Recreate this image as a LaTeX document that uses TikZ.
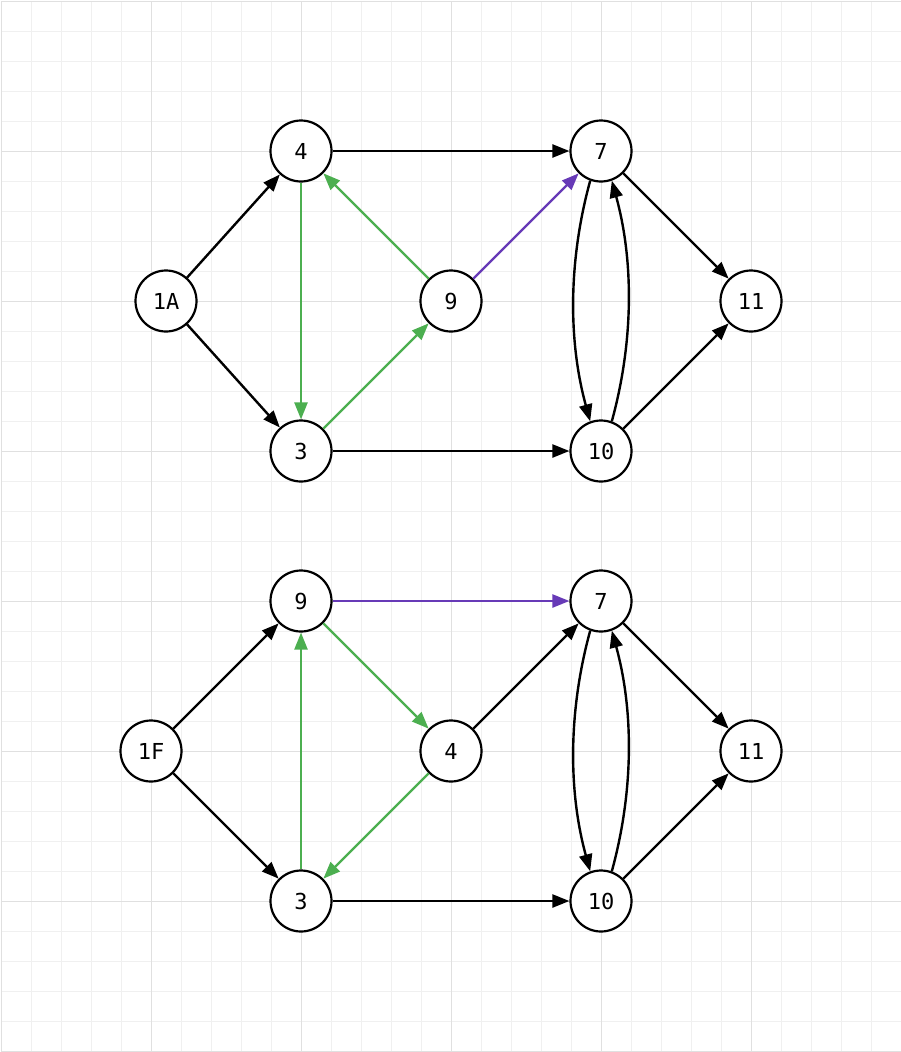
\documentclass[tikz,border=0pt]{standalone}
\usepackage{fontspec}
\newfontfamily\monofnt{DejaVu Sans Mono}
\usetikzlibrary{arrows.meta}
\definecolor{gminor}{HTML}{F0F0F0}
\definecolor{gmajor}{HTML}{E0E0E0}
\definecolor{egreen}{HTML}{4CAF50}
\definecolor{epurple}{HTML}{673AB7}
\tikzset{
  vtx/.style={circle, draw=black, line width=2.2pt, fill=white, minimum size=61pt, inner sep=0pt, font=\monofnt\fontsize{22}{22}\selectfont},
  edg/.style={line width=2.4pt, -{Triangle[length=17pt,width=13pt]}},
  blk/.style={edg, draw=black},
  grn/.style={edg, draw=egreen, -{Triangle[length=17pt,width=13pt,fill=egreen]}},
  prp/.style={edg, draw=epurple, -{Triangle[length=17pt,width=13pt,fill=epurple]}},
  gmin/.style={draw=gminor, line width=1pt},
  gmaj/.style={draw=gmajor, line width=1pt},
}
\begin{document}
\begin{tikzpicture}[x=1pt,y=-1pt]
\useasboundingbox (0,0) rectangle (901,1052);
\fill[white] (0,0) rectangle (901,1052);
% grid
\foreach \i in {0,...,30} {
  \pgfmathsetmacro\xx{1+30*\i}
  \draw[gmin] (\xx,1) -- (\xx,1051);
}
\foreach \j in {0,...,35} {
  \pgfmathsetmacro\yy{1+30*\j}
  \draw[gmin] (1,\yy) -- (901,\yy);
}
\foreach \i in {0,...,6} {
  \pgfmathsetmacro\xx{1+150*\i}
  \draw[gmaj] (\xx,1) -- (\xx,1051);
}
\foreach \j in {0,...,7} {
  \pgfmathsetmacro\yy{1+150*\j}
  \draw[gmaj] (1,\yy) -- (901,\yy);
}
\draw[gmaj] (1,1051) -- (901,1051);

% top graph
\node[vtx] (a1) at (166,301) {1A};
\node[vtx] (a4) at (301,151) {4};
\node[vtx] (a3) at (301,451) {3};
\node[vtx] (a9) at (451,301) {9};
\node[vtx] (a7) at (601,151) {7};
\node[vtx] (a10) at (601,451) {10};
\node[vtx] (a11) at (751,301) {11};

\draw[blk] (a1) -- (a4);
\draw[blk] (a1) -- (a3);
\draw[blk] (a4) -- (a7);
\draw[grn] (a4) -- (a3);
\draw[grn] (a9) -- (a4);
\draw[grn] (a3) -- (a9);
\draw[prp] (a9) -- (a7);
\draw[blk] (a3) -- (a10);
\draw[blk] (a7) -- (a11);
\draw[blk] (a10) -- (a11);
\draw[blk] (a7.250) .. controls +(-22,80) and +(-22,-80) .. (a10.110);
\draw[blk] (a10.70) .. controls +(22,-80) and +(22,80) .. (a7.290);

% bottom graph
\node[vtx] (b1) at (151,751) {1F};
\node[vtx] (b9) at (301,601) {9};
\node[vtx] (b3) at (301,901) {3};
\node[vtx] (b4) at (451,751) {4};
\node[vtx] (b7) at (601,601) {7};
\node[vtx] (b10) at (601,901) {10};
\node[vtx] (b11) at (751,751) {11};

\draw[blk] (b1) -- (b9);
\draw[blk] (b1) -- (b3);
\draw[prp] (b9) -- (b7);
\draw[grn] (b9) -- (b4);
\draw[grn] (b4) -- (b3);
\draw[grn] (b3) -- (b9);
\draw[blk] (b4) -- (b7);
\draw[blk] (b3) -- (b10);
\draw[blk] (b7) -- (b11);
\draw[blk] (b10) -- (b11);
\draw[blk] (b7.250) .. controls +(-22,80) and +(-22,-80) .. (b10.110);
\draw[blk] (b10.70) .. controls +(22,-80) and +(22,80) .. (b7.290);
\end{tikzpicture}
\end{document}
